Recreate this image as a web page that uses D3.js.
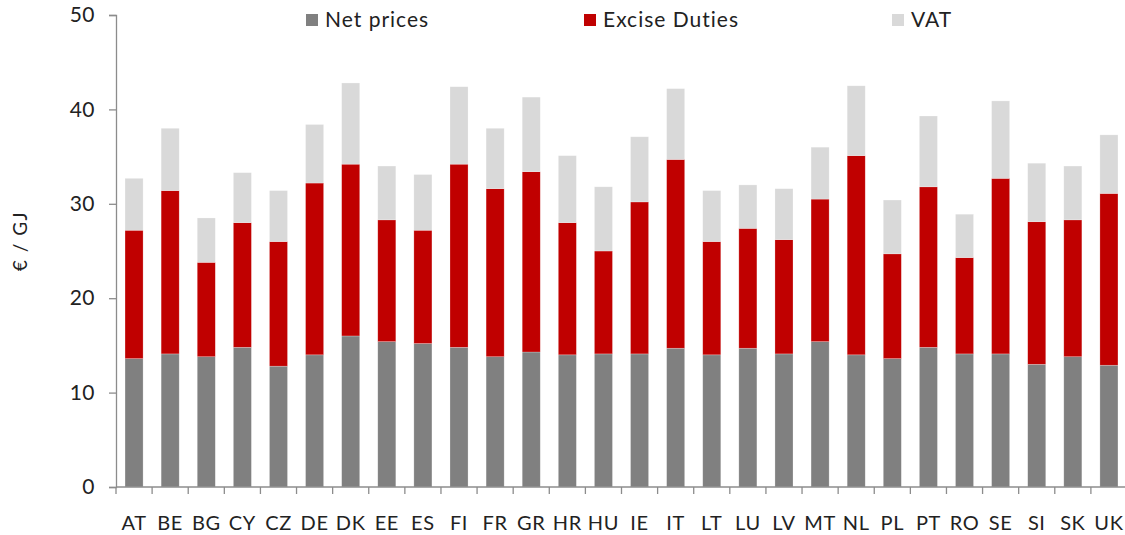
<!DOCTYPE html>
<html>
<head>
<meta charset="utf-8">
<script src="https://cdn.jsdelivr.net/npm/d3@7"></script>
<style>
    body { margin: 0; background: #fff; }
    text { font-family: Lato, "Open Sans", sans-serif; fill: #222; }
</style>
</head>
<body>
<div class="chart-container"></div>
<script>
// Chart params
const width = 1125;
const height = 535;
const margin = { top: 15, right: -2, bottom: 48, left: 116 };

// Data
const countries = ['AT', 'BE', 'BG', 'CY', 'CZ', 'DE', 'DK', 'EE', 'ES', 'FI', 'FR', 'GR', 'HR', 'HU',
    'IE', 'IT', 'LT', 'LU', 'LV', 'MT', 'NL', 'PL', 'PT', 'RO', 'SE', 'SI', 'SK', 'UK'];
const netPrices = [13.6, 14.1, 13.8, 14.8, 12.8, 14.0, 16.0, 15.4, 15.2, 14.8, 13.8, 14.3, 14.0, 14.1,
    14.1, 14.7, 14.0, 14.7, 14.1, 15.4, 14.0, 13.6, 14.8, 14.1, 14.1, 13.0, 13.8, 12.9];
const exciseDuties = [13.6, 17.3, 10.0, 13.2, 13.2, 18.2, 18.2, 12.9, 12.0, 19.4, 17.8, 19.1, 14.0, 10.9,
    16.1, 20.0, 12.0, 12.7, 12.1, 15.1, 21.1, 11.1, 17.0, 10.2, 18.6, 15.1, 14.5, 18.2];
const vat = [5.5, 6.6, 4.7, 5.3, 5.4, 6.2, 8.6, 5.7, 5.9, 8.2, 6.4, 7.9, 7.1, 6.8,
    6.9, 7.5, 5.4, 4.6, 5.4, 5.5, 7.4, 5.7, 7.5, 4.6, 8.2, 6.2, 5.7, 6.2];
const seriesNames = ['Net prices', 'Excise Duties', 'VAT'];
const seriesColors = ['#808080', '#c00000', '#d9d9d9'];
const yTicks = [0, 10, 20, 30, 40, 50];

// Build table for stacking
const table = countries.map((c, i) => ({
    country: c,
    'Net prices': netPrices[i],
    'Excise Duties': exciseDuties[i],
    'VAT': vat[i]
}));

const svg = d3.select('.chart-container')
    .append('svg')
    .attr('width', width)
    .attr('height', height);

const x = d3.scaleBand()
    .domain(countries)
    .range([margin.left, width - margin.right])
    .paddingInner(0.5)
    .paddingOuter(0.25);

const y = d3.scaleLinear()
    .domain([0, 50])
    .range([height - margin.bottom, margin.top]);

const stack = d3.stack().keys(seriesNames);
const layers = stack(table);

// Draw bars
svg.append('g')
    .selectAll('g')
    .data(layers)
    .enter()
    .append('g')
    .attr('fill', (d, i) => seriesColors[i])
    .selectAll('rect')
    .data(d => d)
    .enter()
    .append('rect')
    .attr('x', d => x(d.data.country))
    .attr('y', d => y(d[1]))
    .attr('width', x.bandwidth())
    .attr('height', d => y(d[0]) - y(d[1]))
    .attr('stroke', '#fff')
    .attr('stroke-opacity', 0.4)
    .attr('stroke-width', 0.6);

// Y axis
const yAxis = svg.append('g')
    .attr('transform', `translate(${margin.left},0)`)
    .call(d3.axisLeft(y).tickValues(yTicks).tickSize(7).tickPadding(14));

yAxis.select('.domain').attr('stroke', '#8c8c8c').attr('stroke-width', 1.3);
yAxis.selectAll('.tick line').attr('stroke', '#8c8c8c').attr('stroke-width', 1.3);
yAxis.selectAll('.tick text')
    .style('font-size', '21px')
    .style('letter-spacing', '0.5px')
    .attr('fill', '#222');

// X axis with ticks between categories
const x0 = height - margin.bottom;
const tickPositions = d3.range(countries.length + 1).map(i => x.range()[0] + (x.range()[1] - x.range()[0]) * i / countries.length);

const xAxis = svg.append('g');
xAxis.append('line')
    .attr('x1', margin.left)
    .attr('x2', width - margin.right)
    .attr('y1', x0)
    .attr('y2', x0)
    .attr('stroke', '#8c8c8c')
    .attr('stroke-width', 1.3);

xAxis.selectAll('.xtick')
    .data(tickPositions)
    .enter()
    .append('line')
    .attr('class', 'xtick')
    .attr('x1', d => d)
    .attr('x2', d => d)
    .attr('y1', x0)
    .attr('y2', x0 + 7)
    .attr('stroke', '#8c8c8c')
    .attr('stroke-width', 1.3);

xAxis.selectAll('.xlabel')
    .data(countries)
    .enter()
    .append('text')
    .attr('class', 'xlabel')
    .attr('x', d => x(d) + x.bandwidth() / 2)
    .attr('y', 530)
    .attr('text-anchor', 'middle')
    .style('font-size', '20px')
    .style('letter-spacing', '0.6px')
    .text(d => d);

// Y axis title
svg.append('text')
    .attr('transform', 'translate(27,241) rotate(-90)')
    .attr('text-anchor', 'middle')
    .style('font-size', '19px')
    .style('letter-spacing', '1.5px')
    .text('€ / GJ');

// Legend
const legendX = [306, 584, 892];
const legend = svg.append('g')
    .selectAll('g')
    .data(seriesNames)
    .enter()
    .append('g')
    .attr('transform', (d, i) => `translate(${legendX[i]},14)`);

legend.append('rect')
    .attr('width', 12)
    .attr('height', 12)
    .attr('fill', (d, i) => seriesColors[i]);

legend.append('text')
    .attr('x', 19)
    .attr('y', 13)
    .style('font-size', '21px')
    .style('letter-spacing', '1px')
    .text(d => d);
</script>
</body>
</html>
